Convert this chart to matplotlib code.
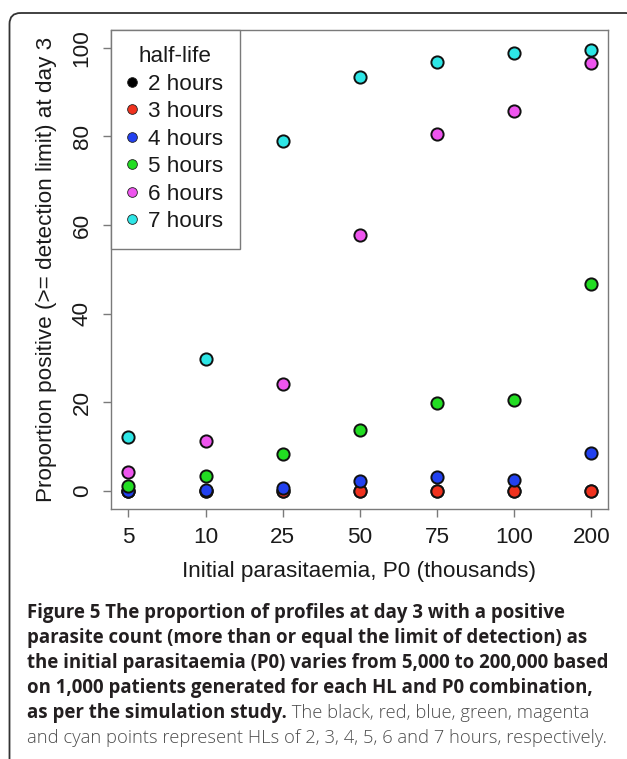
import matplotlib
matplotlib.use("Agg")
import matplotlib.pyplot as plt
import matplotlib.patches as mpatches
import numpy as np

W, H = 627, 759
DPI = 100

# ── Data ────────────────────────────────────────────────────────────
p0_labels = ["5", "10", "25", "50", "75", "100", "200"]
hl_labels = ["2 hours", "3 hours", "4 hours", "5 hours", "6 hours", "7 hours"]
hl_colors = ["#000000", "#F0321E", "#2241F0", "#22DD22", "#EE55EE", "#2EE6E6"]

prop_2h = [0.0, 0.0, 0.0, 0.0, 0.0, 0.0, 0.0]
prop_3h = [0.0, 0.0, 0.0, 0.0, 0.0, 0.0, 0.0]
prop_4h = [0.0, 0.3, 0.8, 2.3, 3.2, 2.5, 8.6]
prop_5h = [1.2, 3.4, 8.4, 13.8, 19.8, 20.6, 46.8]
prop_6h = [4.2, 11.3, 24.2, 57.7, 80.5, 85.7, 96.5]
prop_7h = [12.2, 29.7, 78.9, 93.5, 96.8, 98.8, 99.5]
y_ticks = [0, 20, 40, 60, 80, 100]

series = [prop_2h, prop_3h, prop_4h, prop_5h, prop_6h, prop_7h]

# ── Style ───────────────────────────────────────────────────────────
AXIS_GRAY = "#7a7a7a"
TEXT_DARK = "#1a1a1a"
FS = 16.2  # ~22.5 px at 100 dpi
plt.rcParams["font.family"] = ["Liberation Sans", "DejaVu Sans"]

fig = plt.figure(figsize=(W / DPI, H / DPI), dpi=DPI, facecolor="white")

# outer frame with rounded top-left corner
bg = fig.add_axes([0, 0, 1, 1], zorder=-1)
bg.set_xlim(0, W)
bg.set_ylim(H, 0)
bg.axis("off")
bg.add_patch(mpatches.FancyBboxPatch(
    (9.5, 13), 627, 780, boxstyle="round,pad=0,rounding_size=11",
    facecolor="none", edgecolor="#333333", linewidth=1.3))

# main plot
left, right, top, bottom = 110.7, 608.3, 30.0, 509.3
ax = fig.add_axes([left / W, 1 - bottom / H, (right - left) / W, (bottom - top) / H])

x = np.arange(len(p0_labels))
for vals, col, lab in zip(series, hl_colors, hl_labels):
    ax.plot(x, vals, linestyle="none", marker="o", markersize=8.8,
            markerfacecolor=col, markeredgecolor="#111111", markeredgewidth=1.4,
            label=lab)

ax.set_xlim(-0.23, 6.22)
ax.set_ylim(-4.1, 104)
ax.set_xticks(x)
ax.set_xticklabels(p0_labels)
ax.set_yticks(y_ticks)
ax.set_yticklabels([str(v) for v in y_ticks], rotation=90, va="center")

for sp in ax.spines.values():
    sp.set_color(AXIS_GRAY)
    sp.set_linewidth(1.0)
ax.tick_params(direction="out", length=6, width=1.0, color=AXIS_GRAY,
               labelsize=FS, labelcolor=TEXT_DARK, pad=7)

ax.set_xlabel("Initial parasitaemia, P0 (thousands)", fontsize=FS, color=TEXT_DARK)
ax.set_ylabel("Proportion positive (>= detection limit) at day 3", fontsize=FS, color=TEXT_DARK)
ax.xaxis.set_label_coords(0.5, -0.130)
ax.xaxis.label.set_va("center")
ax.yaxis.set_label_coords(-0.130, 0.5)
ax.yaxis.label.set_va("center")

# legend
handles = [plt.Line2D([], [], linestyle="none", marker="o", markersize=7,
                      markerfacecolor=c, markeredgecolor="#222222", markeredgewidth=0.6)
           for c in hl_colors]
leg = ax.legend(handles, hl_labels, title="half-life", loc="upper left",
                bbox_to_anchor=(0, 1), borderaxespad=0, fontsize=FS,
                title_fontsize=FS, borderpad=0.72, labelspacing=0.29,
                handlelength=0.45, handletextpad=0.5, fancybox=False,
                framealpha=1, edgecolor=AXIS_GRAY)
leg.get_frame().set_linewidth(1.0)
for t in leg.get_texts():
    t.set_color(TEXT_DARK)
leg.get_title().set_color(TEXT_DARK)

# ── Caption ─────────────────────────────────────────────────────────
bold_lines = [
    "Figure 5 The proportion of profiles at day 3 with a positive",
    "parasite count (more than or equal the limit of detection) as",
    "the initial parasitaemia (P0) varies from 5,000 to 200,000 based",
    "on 1,000 patients generated for each HL and P0 combination,",
    "as per the simulation study.",
]
reg_tail = " The black, red, blue, green, magenta"
reg_last = "and cyan points represent HLs of 2, 3, 4, 5, 6 and 7 hours, respectively."

renderer = fig.canvas.get_renderer()
cap_x = 26.7 / W
base0 = 618.3
step = 25.0
CAP_BOLD = "#231f20"
CAP_REG = "#4d4d4d"
CAP_FONT = ["Open Sans", "DejaVu Sans"]


def fitted_size(s, target_px, **kw):
    t = fig.text(0, 0, s, fontsize=10, **kw)
    w = t.get_window_extent(renderer).width
    t.remove()
    return 10 * target_px / w


bold_fs = fitted_size(bold_lines[2], 610 - 26.7, family=CAP_FONT, weight="bold")
reg_fs = fitted_size(reg_last, 606 - 26.7, family=CAP_FONT, weight="light")

last_bold = None
for i, s in enumerate(bold_lines):
    last_bold = fig.text(cap_x, 1 - (base0 + i * step) / H, s, fontsize=bold_fs,
                         family=CAP_FONT, weight="bold", color=CAP_BOLD, va="baseline")
bb = last_bold.get_window_extent(renderer)
fig.text(bb.x1 / W, 1 - (base0 + 4 * step) / H, reg_tail, fontsize=reg_fs,
         family=CAP_FONT, weight="light", color=CAP_REG, va="baseline")
fig.text(cap_x, 1 - (base0 + 5 * step) / H, reg_last, fontsize=reg_fs,
         family=CAP_FONT, weight="light", color=CAP_REG, va="baseline")

fig.savefig("out.png", dpi=DPI, facecolor="white")
